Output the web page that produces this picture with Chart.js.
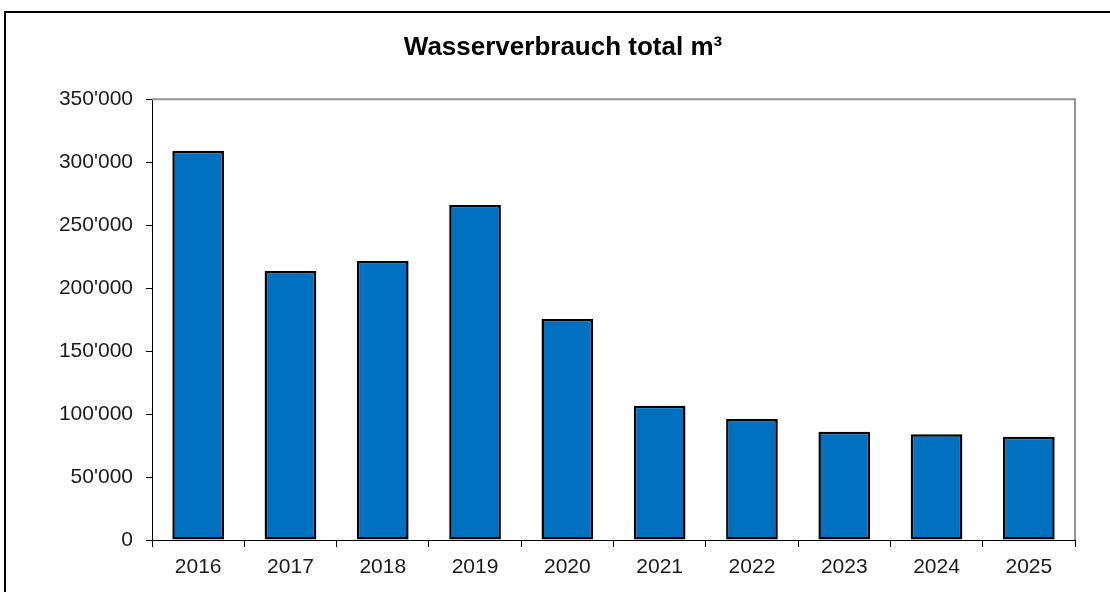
<!DOCTYPE html>
<html>
<head>
<meta charset="utf-8">
<script src="https://cdn.jsdelivr.net/npm/chart.js@4"></script>
<style>
  html, body { margin: 0; padding: 0; background: #fff; }
  canvas { display: block; }
</style>
</head>
<body>
<canvas id="wasser" width="1110" height="592"></canvas>
<script>
// Chart data
const years = ['2016', '2017', '2018', '2019', '2020', '2021', '2022', '2023', '2024', '2025'];
const verbrauch = [309000, 213500, 221500, 266000, 175500, 106500, 96000, 86000, 84000, 82000];
const yTicks = [0, 50000, 100000, 150000, 200000, 250000, 300000, 350000];

// Swiss number format with apostrophe
function fmt(v) {
    return String(v).replace(/\B(?=(\d{3})+(?!\d))/g, "'")
}

// Frame, plot border lines
const frame = {
    id: 'frame',
    beforeDraw(chart) {
        const ctx = chart.ctx
        ctx.save()
        ctx.fillStyle = '#fff'
        ctx.fillRect(0, 0, chart.width, chart.height)
        ctx.strokeStyle = '#000'
        ctx.lineWidth = 2
        ctx.beginPath()
        ctx.moveTo(5, chart.height)
        ctx.lineTo(5, 12)
        ctx.lineTo(chart.width, 12)
        ctx.stroke()
        ctx.restore()
    },
    afterDatasetsDraw(chart) {
        const a = chart.chartArea
        const ctx = chart.ctx
        ctx.save()
        ctx.strokeStyle = '#939393'
        ctx.lineWidth = 2
        ctx.beginPath()
        ctx.moveTo(a.left, a.top)
        ctx.lineTo(a.right, a.top)
        ctx.lineTo(a.right, a.bottom)
        ctx.stroke()
        ctx.restore()
    }
}

new Chart(document.getElementById('wasser'), {
    type: 'bar',
    data: {
        labels: years,
        datasets: [{
            label: 'Wasserverbrauch',
            data: verbrauch,
            backgroundColor: '#0070C0',
            borderColor: '#000',
            borderWidth: 2.5,
            borderSkipped: false,
            barPercentage: 0.56,
            categoryPercentage: 1
        }]
    },
    options: {
        responsive: false,
        animation: false,
        layout: { padding: { left: 51, right: 35, top: 0, bottom: 0 } },
        plugins: {
            legend: { display: false },
            tooltip: { enabled: false },
            title: {
                display: true,
                text: 'Wasserverbrauch total m³',
                color: '#000',
                font: { family: 'Liberation Sans, Arial, sans-serif', size: 26, weight: 'bold', lineHeight: 1.2 },
                padding: { top: 32, bottom: 36 }
            }
        },
        scales: {
            x: {
                grid: { offset: true, drawOnChartArea: false, drawTicks: true, tickLength: 7, color: '#000' },
                border: { display: true, color: '#000', width: 1 },
                ticks: {
                    color: '#1a1a1a',
                    padding: 8,
                    maxRotation: 0,
                    font: { family: 'Liberation Sans, Arial, sans-serif', size: 21 }
                },
                afterFit(scale) { scale.height = 52 }
            },
            y: {
                min: 0,
                max: 350000,
                afterBuildTicks(scale) { scale.ticks = yTicks.map(v => ({ value: v })) },
                grid: { drawOnChartArea: false, drawTicks: true, tickLength: 6, color: '#000' },
                border: { display: true, color: '#000', width: 1 },
                ticks: {
                    color: '#1a1a1a',
                    padding: 13,
                    callback: v => fmt(v),
                    font: { family: 'Liberation Sans, Arial, sans-serif', size: 21 }
                },
                afterFit(scale) { scale.width = 101 }
            }
        }
    },
    plugins: [frame]
});
</script>
</body>
</html>
